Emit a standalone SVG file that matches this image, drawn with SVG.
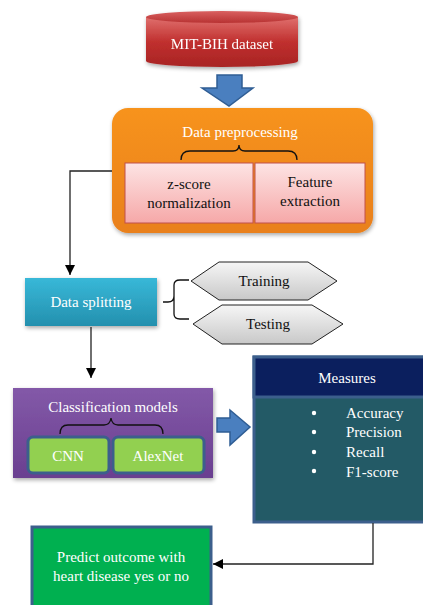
<svg xmlns="http://www.w3.org/2000/svg" width="423" height="605" viewBox="0 0 423 605" font-family="'Liberation Serif', 'DejaVu Serif', serif">
<defs>
<linearGradient id="gRed" x1="0" y1="0" x2="0" y2="1"><stop offset="0" stop-color="#e0706e"/><stop offset="0.5" stop-color="#c0302e"/><stop offset="1" stop-color="#a82424"/></linearGradient>
<linearGradient id="gRedTop" x1="0" y1="0" x2="0" y2="1"><stop offset="0" stop-color="#d96060"/><stop offset="1" stop-color="#b83232"/></linearGradient>
<linearGradient id="gOrange" x1="0" y1="0" x2="0" y2="1"><stop offset="0" stop-color="#f7931e"/><stop offset="1" stop-color="#e9801a"/></linearGradient>
<linearGradient id="gPink" x1="0" y1="0" x2="0" y2="1"><stop offset="0" stop-color="#fde4e4"/><stop offset="1" stop-color="#f6a8a8"/></linearGradient>
<linearGradient id="gTeal" x1="0" y1="0" x2="0" y2="1"><stop offset="0" stop-color="#38b8d8"/><stop offset="1" stop-color="#2490ae"/></linearGradient>
<linearGradient id="gHex" x1="0" y1="0" x2="0" y2="1"><stop offset="0" stop-color="#f6f6f6"/><stop offset="1" stop-color="#c8c8c8"/></linearGradient>
<linearGradient id="gPurple" x1="0" y1="0" x2="0" y2="1"><stop offset="0" stop-color="#8359a8"/><stop offset="1" stop-color="#6a3f90"/></linearGradient>
<filter id="sh" x="-10%" y="-10%" width="130%" height="130%"><feGaussianBlur in="SourceAlpha" stdDeviation="2"/><feOffset dx="1" dy="2"/><feComponentTransfer><feFuncA type="linear" slope="0.35"/></feComponentTransfer><feMerge><feMergeNode/><feMergeNode in="SourceGraphic"/></feMerge></filter>
<marker id="ah" viewBox="0 0 10 10" refX="10" refY="5" markerWidth="10" markerHeight="10" markerUnits="userSpaceOnUse" orient="auto"><path d="M0,0 L10,5 L0,10 z" fill="#000"/></marker>
</defs>
<style>
text{font-family:'Liberation Serif','DejaVu Serif',serif;text-anchor:middle}
.w{fill:#fff;font-size:15px}
.k{fill:#111;font-size:15px}
.conn{fill:none;stroke:#222;stroke-width:1.3}
.brace{fill:none;stroke:#111;stroke-width:1.3}
.barrow{fill:#4a7fbf;stroke:#2f5d94;stroke-width:1.5}
</style>

<g id="dataset" filter="url(#sh)">
<path d="M146,17 L146,61 A76,6 0 0 0 298,61 L298,17 Z" fill="url(#gRed)"/>
<ellipse cx="222" cy="17" rx="76" ry="6" fill="url(#gRedTop)"/>
<text class="w" x="222" y="49">MIT-BIH  dataset</text>
</g>

<g id="arrow-down">
<path class="barrow" d="M217,75 L242,75 L242,88 L253,88 L229,106 L202,88 L217,88 Z"/>
</g>

<g id="preprocessing">
<rect x="112" y="108" width="261" height="125" rx="16" fill="url(#gOrange)" filter="url(#sh)"/>
<text class="w" x="240" y="137">Data preprocessing</text>
<path class="brace" d="M181,160 Q181,151 190,151 L233,151 Q239,151 239,145 Q239,151 245,151 L288,151 Q297,151 297,160"/>
<g id="zscore"><rect x="125" y="163" width="128" height="60" fill="url(#gPink)" stroke="#c0504d" stroke-width="1"/>
<text class="k" x="189" y="189">z-score</text><text class="k" x="189" y="208">normalization</text></g>
<g id="feature"><rect x="255" y="163" width="110" height="60" fill="url(#gPink)" stroke="#c0504d" stroke-width="1"/>
<text class="k" x="310" y="187">Feature</text><text class="k" x="310" y="206">extraction</text></g>
</g>

<g id="splitting">
<rect x="25" y="278" width="132" height="48" fill="url(#gTeal)" filter="url(#sh)"/>
<text class="w" x="91" y="307">Data splitting</text>
</g>

<g id="training">
<polygon points="191,281 219,262 308,262 337,281 308,300 219,300" fill="url(#gHex)" stroke="#222" stroke-width="1"/>
<text class="k" x="264" y="286">Training</text>
</g>
<g id="testing">
<polygon points="193,324 222,305 312,305 343,324 312,344 222,344" fill="url(#gHex)" stroke="#222" stroke-width="1"/>
<text class="k" x="268" y="329">Testing</text>
</g>

<g id="classification">
<rect x="13" y="388" width="200" height="90" fill="url(#gPurple)" filter="url(#sh)"/>
<text class="w" x="113" y="412">Classification  models</text>
<path class="brace" d="M60,434 Q60,425 68,425 L104,425 Q110,425 111,418 Q112,425 118,425 L155,425 Q163,425 163,434"/>
<g id="cnn"><rect x="28" y="437" width="81" height="36" rx="5" fill="#92d050" stroke="#3c5f8c" stroke-width="3"/>
<text class="w" x="68" y="461">CNN</text></g>
<g id="alexnet"><rect x="113" y="437" width="91" height="36" rx="5" fill="#92d050" stroke="#3c5f8c" stroke-width="3"/>
<text class="w" x="158" y="461">AlexNet</text></g>
</g>

<g id="arrow-right">
<path class="barrow" d="M217,418 L230,418 L230,410 L250,427 L230,445 L230,432 L217,432 Z"/>
</g>

<g id="measures">
<rect x="254" y="357" width="175" height="165" fill="#235a66" stroke="#3c5f8c" stroke-width="3"/>
<rect x="254" y="357" width="175" height="40" fill="#0b1f5e" stroke="#3c5f8c" stroke-width="3"/>
<text class="w" x="347" y="383">Measures</text>
<circle cx="314" cy="413" r="2.2" fill="#fff"/><circle cx="314" cy="432" r="2.2" fill="#fff"/><circle cx="314" cy="452" r="2.2" fill="#fff"/><circle cx="314" cy="471" r="2.2" fill="#fff"/>
<text class="w" x="346" y="418" style="text-anchor:start">Accuracy</text>
<text class="w" x="346" y="437" style="text-anchor:start">Precision</text>
<text class="w" x="346" y="457" style="text-anchor:start">Recall</text>
<text class="w" x="346" y="477" style="text-anchor:start">F1-score</text>
</g>

<g id="predict">
<rect x="32" y="527" width="179" height="80" fill="#00b050" stroke="#3c5f8c" stroke-width="3"/>
<text class="w" x="121" y="562">Predict outcome with</text>
<text class="w" x="121" y="581">heart disease  yes or no</text>
</g>

<g id="connectors">
<path class="conn" d="M112,171 L70,171 L70,275" marker-end="url(#ah)"/>
<path class="brace" d="M163,302 L168,302 Q174,302 174,296 L174,285 Q174,280 180,280 L189,280 M174,308 L174,314 Q174,319 180,319 L189,319 M174,296 L174,308"/>
<path class="conn" d="M91,327 L91,378" marker-end="url(#ah)"/>
<path class="conn" d="M373,523 L373,564 L213,564" marker-end="url(#ah)"/>
</g>
</svg>
